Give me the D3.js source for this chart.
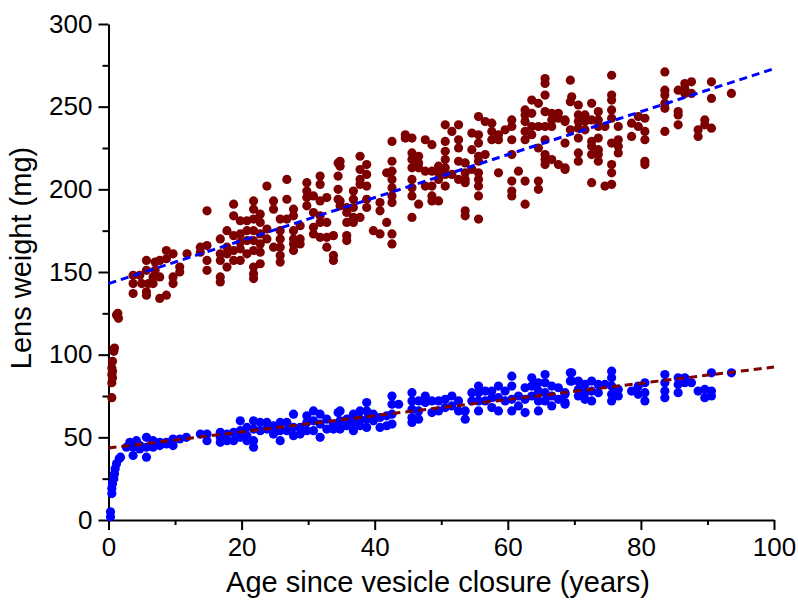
<!DOCTYPE html>
<html>
<head>
<meta charset="utf-8">
<script src="https://cdn.jsdelivr.net/npm/d3@7"></script>
<style>
  body { margin: 0; background: #fff; }
  svg text { font-family: "Liberation Sans", Arial, sans-serif; }
</style>
</head>
<body>
<script>
// tick values
var xTicks = [0, 20, 40, 60, 80, 100]
var xMinor = [10, 30, 50, 70, 90]
var yTicks = [0, 50, 100, 150, 200, 250, 300]
var yMinor = [25, 75, 125, 175, 225, 275]

// lens weight, dark red series [age, mg]
var redPoints = [
  [0.5,74],[0.5,83],[0.6,86],[0.5,88],[0.6,90],[0.5,92],[0.6,96],[0.8,102],[0.9,104],[1.2,124],[1.5,122],[1.4,125],
  [3.7,148],[4.7,148],[3.7,143],[5.0,143],[6.0,143],[6.7,147],[5.7,151],[7.0,151],[7.7,147],[6.7,143],
  [3.7,137],[5.7,136],[5.7,138],[7.7,134],[8.7,136],
  [5.7,157],[7.0,156],[7.7,157],[8.7,158],[8.7,163],[9.7,161],[10.7,153],[10.7,150],[9.7,143],[9.7,147],
  [11.8,161],[13.8,165],[14.8,166],[13.8,162],[14.8,157],[14.8,151],[14.8,187],
  [16.8,170],[16.8,161],[16.8,157],[16.8,147],[16.8,144],
  [17.8,175],[17.8,165],[17.8,161],[17.8,153],[18.8,191],[18.8,184],[18.8,172],[18.8,163],[18.8,157],
  [19.8,181],[19.8,173],[19.8,168],[19.8,164],[19.8,157],
  [20.8,181],[20.8,175],[20.8,169],[20.8,161],
  [21.8,193],[21.8,188],[21.8,182],[21.8,175],[21.8,169],[21.8,163],[21.8,153],[21.8,149],[21.8,146],
  [22.8,185],[22.8,180],[22.8,173],[22.8,167],[22.8,162],[22.8,155],
  [23.8,202],[23.8,176],[23.8,170],[24.8,193],[24.8,188],[24.8,165],
  [25.8,182],[25.8,175],[25.8,170],[25.8,165],[25.8,160],[25.8,156],
  [26.8,206],[26.8,194],[26.8,182],
  [27.8,188],[27.8,184],[27.8,175],[27.8,170],[27.8,167],[27.8,163],
  [28.8,178],[28.8,170],[28.8,167],
  [29.8,204],[29.8,199],[29.8,195],[29.8,190],
  [30.8,196],[30.8,186],[30.8,177],[30.8,173],
  [31.8,208],[31.8,203],[31.8,193],[31.8,184],[31.8,180],[31.8,171],
  [32.8,195],[32.8,180],[32.8,171],[32.8,165],
  [33.8,172],[33.8,160],[33.8,157],
  [34.5,216],[34.5,208],[34.5,200],[34.5,194],
  [34.8,217],[34.8,214],[34.8,193],[34.8,190],
  [35.8,189],[35.8,186],[35.8,180],[35.8,172],[35.8,169],
  [36.8,199],[36.8,194],[36.8,189],[36.8,183],[36.8,180],
  [37.8,220],[37.8,212],[37.8,206],[37.8,203],[37.8,183],
  [38.8,215],[38.8,209],[38.8,202],[38.8,194],[38.8,189],
  [39.8,175],[40.8,192],[40.8,187],[40.8,173],[41.8,210],[41.8,180],
  [42.6,229],[42.6,217],[42.6,211],[42.6,206],[42.6,201],[42.6,196],[42.6,192],[42.6,173],[42.6,167],
  [44.6,233],[44.6,231],
  [45.6,231],[45.6,222],[45.6,218],[45.6,213],[45.6,206],[45.6,201],[45.6,196],[45.6,183],
  [46.6,220],[46.6,216],[46.6,213],[46.6,191],
  [47.6,230],[47.6,211],[47.6,202],
  [48.6,227],[48.6,211],[48.6,202],[48.6,196],[48.6,193],
  [49.6,214],[49.6,210],[49.6,206],[49.6,193],
  [50.6,239],[50.6,229],[50.6,223],[50.6,218],[50.6,213],[50.6,209],[50.6,202],
  [51.6,235],[51.6,209],
  [52.6,239],[52.6,230],[52.6,225],[52.6,217],[52.6,206],
  [53.6,216],[53.6,210],[53.6,206],[53.6,204],[53.6,187],[53.6,184],
  [54.6,234],[54.6,224],[54.6,212],
  [55.6,244],[55.6,233],[55.6,228],[55.6,220],[55.6,217],[55.6,210],[55.6,206],[55.6,202],[55.6,196],[55.6,182],
  [56.6,241],[56.6,221],[57.6,240],[57.6,235],[57.6,230],
  [58.6,233],[58.6,230],[58.6,210],[59.6,236],
  [60.6,242],[60.6,238],[60.6,230],[60.6,221],[60.6,205],[60.6,199],[60.6,196],
  [61.6,211],
  [62.6,248],[62.6,245],[62.6,241],[62.6,235],[62.6,230],[62.6,205],[62.6,191],
  [63.6,254],[63.6,246],[63.6,238],[63.6,233],
  [64.6,252],[64.6,238],[64.6,225],[64.6,205],[64.6,200],
  [65.6,267],[65.6,264],[65.6,257],[65.6,247],[65.6,238],[65.6,230],[65.6,221],[65.6,218],[65.6,215],
  [66.6,246],[66.6,242],[66.6,238],[66.6,218],
  [67.6,246],[67.6,243],[67.6,215],
  [68.6,242],[68.6,241],[68.6,228],[68.6,213],[68.6,212],
  [69.4,266],[69.4,253],[69.4,236],[69.6,256],
  [70.6,251],[70.6,245],[70.6,241],[70.6,237],[70.6,231],[70.6,222],[70.6,217],
  [71.6,245],[71.6,241],[71.6,236],
  [72.6,252],[72.6,242],[72.6,229],[72.6,226],[72.6,221],[72.6,204],
  [73.6,247],[73.6,242],[73.6,238],[73.6,231],[73.6,224],[73.6,221],[73.6,217],
  [74.6,238],[74.6,202],
  [75.6,269],[75.6,257],[75.6,254],[75.6,248],[75.6,243],[75.6,228],[75.6,215],[75.6,210],[75.6,203],
  [76.6,238],[76.6,230],[76.6,226],[76.6,222],
  [78.6,240],[78.6,232],[79.6,244],[79.6,238],
  [80.6,243],[80.6,235],[80.6,230],[80.6,217],[80.6,215],
  [83.6,271],[83.6,260],[83.6,257],[83.6,252],[83.6,249],[83.6,235],
  [85.6,260],[85.6,247],[85.6,245],[85.6,239],
  [86.6,264],[86.6,261],[86.6,258],[87.6,265],[87.6,258],
  [88.6,236],[88.6,232],[89.6,242],[89.6,239],
  [90.6,265],[90.6,255],[90.6,237],[93.6,258]
]

// lens weight, blue series [age, mg]
var bluePoints = [
  [0.3,2],[0.3,5],[0.5,16],[0.5,19],[0.6,22],[0.8,25],[0.9,28],[1.0,31],[1.2,34],[1.6,37],[1.8,38],
  [2.7,44],[3.2,47],[3.7,46],[4.2,48],[3.7,39],[4.7,43],[5.7,38],[5.7,50],[5.7,44],[6.7,47],[6.7,44],
  [7.7,47],[8.7,47],[9.7,49],[10.7,49],[11.7,50],
  [3.7,44],[4.7,45],[6.7,48],[7.7,45],[8.7,46],[9.7,45],
  [13.8,52],[14.8,52],[14.8,48],[16.8,53],[16.8,50],[16.8,47],[17.8,52],[17.8,48],[18.8,53],[18.8,48],
  [19.8,60],[19.8,54],[19.8,50],[20.8,56],[20.8,51],[20.8,48],[21.8,60],[21.8,55],[21.8,48],[21.8,44],
  [22.8,59],[22.8,54],[23.8,59],[23.8,55],[24.8,57],[24.8,52],[25.8,59],[25.8,54],[25.8,48],
  [26.8,59],[26.8,54],[27.8,64],[27.8,56],[27.8,51],[28.8,56],[28.8,52],[29.8,63],[29.8,59],[29.8,54],
  [30.8,66],[30.8,60],[30.8,54],[31.8,64],[31.8,58],[31.8,50],[32.8,61],[32.8,55],[34.5,65],
  [33.8,58],[33.8,55],[34.8,66],[34.8,60],[34.8,55],[35.8,61],[35.8,57],[36.8,64],[36.8,59],[36.8,54],
  [37.8,66],[37.8,61],[37.8,57],[38.8,71],[38.8,66],[38.8,61],[38.8,56],[39.8,64],[39.8,60],
  [40.8,62],[40.8,56],[41.8,63],[41.8,57],[42.6,75],[42.6,70],[42.6,64],[42.6,58],[43.6,70],
  [45.6,77],[45.6,72],[45.6,67],[45.6,62],[45.6,59],[46.6,72],[46.6,66],[46.6,61],[47.6,75],[47.6,71],
  [48.6,72],[48.6,65],[49.6,72],[49.6,66],[50.6,73],[50.6,68],[51.6,75],[51.6,69],[52.6,72],[52.6,66],
  [53.6,66],[53.6,61],[54.6,77],[54.6,72],[55.6,81],[55.6,77],[55.6,72],[55.6,66],[56.6,78],[56.6,72],
  [57.6,78],[57.6,74],[57.6,68],[58.6,81],[58.6,74],[58.6,66],[59.6,78],[59.6,72],
  [60.6,87],[60.6,81],[60.6,73],[60.6,66],[61.6,75],[61.6,69],[62.6,80],[62.6,73],[62.6,65],
  [63.6,86],[63.6,81],[63.6,75],[64.6,83],[64.6,78],[64.6,72],[64.6,66],
  [65.6,88],[65.6,83],[65.6,77],[65.6,72],[66.6,81],[66.6,75],[66.6,69],[67.6,80],[67.6,73],
  [68.6,77],[68.6,71],[69.4,89],[69.4,84],
  [68.6,76],[68.6,70],[69.6,89],[69.6,84],[70.6,84],[70.6,79],[70.6,75],[71.6,82],[71.6,77],[71.6,73],
  [72.6,84],[72.6,78],[72.6,72],[73.6,82],[73.6,77],[74.6,82],
  [75.6,90],[75.6,86],[75.6,81],[75.6,76],[75.6,72],[76.6,79],[76.6,75],[78.6,78],[79.6,81],[79.6,76],
  [80.6,83],[80.6,77],[80.6,72],[83.6,88],[83.6,83],[83.6,78],[83.6,74],
  [85.6,86],[85.6,82],[85.6,77],[86.6,86],[86.6,83],[87.6,83],[88.6,78],[89.6,79],[89.6,74],
  [90.6,89],[90.6,78],[90.6,75],[93.6,89]
]

// fitted lines (blue line fits red data, red line fits blue data)
var blueFit = [[0, 143], [100, 273]]
var redFit = [[0, 43.5], [100, 92.5]]

var red = '#7d0000'
var blue = '#0000ff'

var svg = d3.select(document.body).append('svg')
  .attr('width', 798)
  .attr('height', 600)

var x = d3.scaleLinear().domain([0, 100]).range([108.5, 774])
var y = d3.scaleLinear().domain([0, 300]).range([520, 24])

// axes
var xAxis = svg.append('g').attr('transform', 'translate(0,520)')
  .call(d3.axisBottom(x).tickValues(xTicks).tickSize(10).tickSizeOuter(0).tickPadding(8))
var xAxisMinor = svg.append('g').attr('transform', 'translate(0,520)')
  .call(d3.axisBottom(x).tickValues(xMinor).tickSize(5).tickFormat(''))
var yAxis = svg.append('g').attr('transform', 'translate(108.5,0)')
  .call(d3.axisLeft(y).tickValues(yTicks).tickSize(10).tickSizeOuter(0).tickPadding(6))
var yAxisMinor = svg.append('g').attr('transform', 'translate(108.5,0)')
  .call(d3.axisLeft(y).tickValues(yMinor).tickSize(6).tickFormat(''))

svg.selectAll('.domain').attr('stroke', '#000').attr('stroke-width', 2)
svg.selectAll('.tick line').attr('stroke', '#000').attr('stroke-width', 2)
svg.selectAll('.tick text').attr('font-size', 26).attr('fill', '#000')
  .attr('font-family', '"Liberation Sans", Arial, sans-serif')
xAxisMinor.select('.domain').remove()
yAxisMinor.select('.domain').remove()

// scatter
svg.append('g').selectAll('circle').data(redPoints).enter().append('circle')
  .attr('cx', function(d) { return x(d[0]) })
  .attr('cy', function(d) { return y(d[1]) })
  .attr('r', 4.6)
  .attr('fill', red)

svg.append('g').selectAll('circle').data(bluePoints).enter().append('circle')
  .attr('cx', function(d) { return x(d[0]) })
  .attr('cy', function(d) { return y(d[1]) })
  .attr('r', 4.6)
  .attr('fill', blue)

// fit lines
var line = d3.line().x(function(d) { return x(d[0]) }).y(function(d) { return y(d[1]) })

svg.append('path').datum(blueFit)
  .attr('d', line)
  .attr('fill', 'none')
  .attr('stroke', blue)
  .attr('stroke-width', 3)
  .attr('stroke-dasharray', '8,5')

svg.append('path').datum(redFit)
  .attr('d', line)
  .attr('fill', 'none')
  .attr('stroke', red)
  .attr('stroke-width', 3)
  .attr('stroke-dasharray', '8,5')

// titles
svg.append('text')
  .attr('x', 438)
  .attr('y', 592)
  .attr('text-anchor', 'middle')
  .attr('font-size', 29)
  .text('Age since vesicle closure (years)')

svg.append('text')
  .attr('transform', 'translate(31,258) rotate(-90)')
  .attr('text-anchor', 'middle')
  .attr('font-size', 29)
  .text('Lens weight (mg)')
</script>
</body>
</html>
